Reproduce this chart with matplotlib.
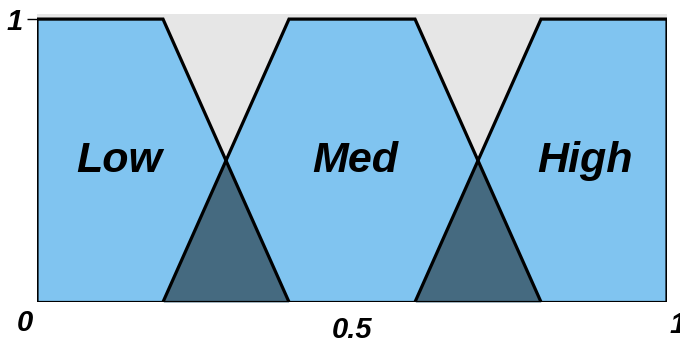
import numpy as np
import matplotlib.pyplot as plt

# membership functions (trapezoids): x corners and heights
names = ["Low", "Med", "High"]
low_x = [0.0, 0.0, 0.2, 0.4]
low_y = [0.0, 1.0, 1.0, 0.0]
med_x = [0.2, 0.4, 0.6, 0.8]
med_y = [0.0, 1.0, 1.0, 0.0]
high_x = [0.6, 0.8, 1.0, 1.0]
high_y = [0.0, 1.0, 1.0, 0.0]
label_x = [0.13, 0.505, 0.87]
label_y = 0.5

blue = "#80c4f0"
dark = "#456a80"
grey = "#e6e6e6"

fig = plt.figure(figsize=(6.8, 3.47), dpi=100)
ax = fig.add_axes([37 / 680, 45 / 347, 630 / 680, 288 / 347])
ax.set_facecolor(grey)

xs = np.linspace(0, 1, 2001)
mf = []
for px, py in [(low_x, low_y), (med_x, med_y), (high_x, high_y)]:
    ax.fill(px, py, color=blue, zorder=1)
    mf.append(np.interp(xs, px, py, left=0, right=0))
# low membership extends to the left edge
mf[0][xs <= 0.2] = 1
mf[2][xs >= 0.8] = 1

# overlap areas
for a, b in [(mf[0], mf[1]), (mf[1], mf[2])]:
    ov = np.minimum(a, b)
    ax.fill_between(xs, 0, ov, where=ov > 0, color=dark, zorder=2, lw=0)

for px, py in [(low_x, low_y), (med_x, med_y), (high_x, high_y)]:
    ax.plot(px, py, color="black", lw=2.3, zorder=3, solid_joinstyle="miter")
ax.plot([0, 1], [0, 0], color="black", lw=2.3, zorder=3)

for n, lx in zip(names, label_x):
    ax.text(lx, label_y, n, fontsize=31, fontweight="bold", fontstyle="italic",
            family="Liberation Sans", ha="center", va="center", zorder=4)

ax.set_xlim(0, 1)
ax.set_ylim(0, 1.018)
for s in ax.spines.values():
    s.set_visible(False)
ax.set_xticks([])
ax.set_yticks([1])
ax.set_yticklabels([])
ax.tick_params(axis="y", length=7, width=1, color="black")

tfont = dict(fontsize=21, fontweight="bold", fontstyle="italic", family="Liberation Sans")
fig.text(15 / 680, 1 - 22 / 347, "1", ha="center", va="center", **tfont)
fig.text(25 / 680, 1 - 323 / 347, "0", ha="center", va="center", **tfont)
fig.text(352 / 680, 1 - 330 / 347, "0.5", ha="center", va="center", **tfont)
fig.text(678 / 680, 1 - 325 / 347, "1", ha="center", va="center", **tfont)

fig.savefig("out.png", dpi=100, facecolor="white")
